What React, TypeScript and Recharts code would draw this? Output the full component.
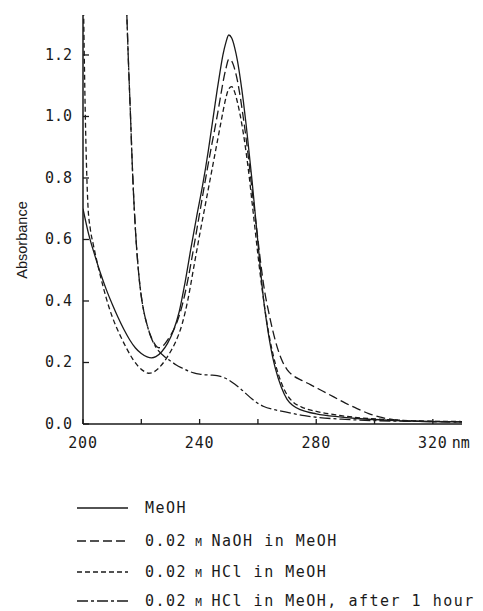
import { LineChart, Line, XAxis, YAxis } from "recharts";

// wavelength (nm) / absorbance
const meohNm = [200, 202, 204, 206, 208, 210, 212, 214, 216, 218, 220, 222, 223.5, 225, 227, 229, 231, 233, 235, 237, 239, 241, 242, 243, 244, 245, 246, 247, 248, 249, 250, 251, 252, 253, 254, 255, 256, 257, 258, 259, 260, 261, 262, 263, 264, 265, 266, 268, 270, 272, 275, 280, 288, 295, 305, 315, 330];
const meohAbs = [0.7, 0.615, 0.55, 0.49, 0.437, 0.39, 0.347, 0.308, 0.274, 0.247, 0.229, 0.218, 0.215, 0.219, 0.235, 0.262, 0.303, 0.365, 0.46, 0.57, 0.675, 0.775, 0.83, 0.89, 0.955, 1.02, 1.085, 1.145, 1.2, 1.24, 1.265, 1.255, 1.225, 1.18, 1.12, 1.05, 0.97, 0.88, 0.79, 0.69, 0.59, 0.49, 0.4, 0.33, 0.27, 0.22, 0.18, 0.12, 0.08, 0.06, 0.045, 0.033, 0.023, 0.017, 0.012, 0.009, 0.007];

const naohNm = [214.8, 215.5, 216.3, 217, 218, 219, 220, 221, 222, 223, 224, 225, 226, 227, 228, 230, 232, 234, 236, 238, 240, 242, 244, 246, 247, 248, 249, 250, 251, 252, 253, 254, 255, 256, 257, 258, 259, 260, 261, 262, 264, 266, 268, 270, 272, 275, 278, 282, 286, 290, 294, 298, 302, 306, 310, 320, 330];
const naohAbs = [1.4, 1.2, 1.0, 0.82, 0.63, 0.5, 0.415, 0.36, 0.322, 0.292, 0.27, 0.255, 0.248, 0.25, 0.26, 0.288, 0.325, 0.385, 0.47, 0.575, 0.685, 0.795, 0.9, 1.0, 1.055, 1.11, 1.155, 1.186, 1.18, 1.155, 1.115, 1.06, 0.995, 0.925, 0.845, 0.76, 0.68, 0.6, 0.52, 0.45, 0.35, 0.27, 0.212, 0.177, 0.158, 0.142, 0.128, 0.108, 0.088, 0.068, 0.05, 0.034, 0.022, 0.015, 0.011, 0.008, 0.007];

const hclNm = [200, 200.4, 200.8, 201.2, 201.7, 202.5, 203.5, 205, 207, 209, 211, 213, 215, 217, 219, 221, 222.5, 224, 226, 228, 230, 232, 234, 236, 238, 240, 242, 244, 246, 247, 248, 249, 250, 251, 252, 253, 254, 255, 256, 257, 258, 259, 260, 261, 262, 263, 264, 266, 268, 270, 272, 275, 280, 288, 295, 305, 315, 330];
const hclAbs = [1.5, 1.22, 1.0, 0.84, 0.71, 0.635, 0.585, 0.52, 0.443, 0.377, 0.325, 0.283, 0.245, 0.212, 0.187, 0.171, 0.165, 0.168, 0.182, 0.205, 0.235, 0.272, 0.325, 0.405, 0.51, 0.615, 0.715, 0.815, 0.915, 0.965, 1.015, 1.06, 1.09, 1.097, 1.08, 1.045, 1.0, 0.945, 0.88, 0.805, 0.72, 0.635, 0.55, 0.47, 0.4, 0.335, 0.28, 0.195, 0.135, 0.095, 0.072, 0.055, 0.041, 0.028, 0.02, 0.014, 0.01, 0.008];

const hcl1hNm = [214.8, 215.5, 216.3, 217, 218, 219, 220, 221, 222, 223, 224, 225, 226, 228, 230, 232, 234, 236, 238, 240, 242, 244, 246, 248, 250, 252, 254, 256, 258, 260, 262, 265, 268, 272, 276, 280, 290, 300, 310, 330];
const hcl1hAbs = [1.4, 1.2, 1.0, 0.82, 0.63, 0.5, 0.415, 0.36, 0.322, 0.29, 0.267, 0.25, 0.237, 0.219, 0.205, 0.192, 0.182, 0.173, 0.166, 0.162, 0.16, 0.159, 0.157, 0.152, 0.143, 0.13, 0.115, 0.098, 0.081, 0.067, 0.057, 0.048, 0.042, 0.034, 0.027, 0.022, 0.015, 0.011, 0.009, 0.007];

const xTicks = [200, 220, 240, 260, 280, 300, 320];
const yTicks = [0, 0.2, 0.4, 0.6, 0.8, 1.0, 1.2];

const toRows = (nm: number[], abs: number[]) =>
  nm.map((x, i) => ({ nm: x, abs: abs[i] }));

const INK = "#1a1a1a";
const MONO = "'DejaVu Sans Mono', 'Liberation Mono', monospace";

const series = [
  { name: "MeOH", data: toRows(meohNm, meohAbs), dash: undefined },
  { name: "0.02 M NaOH in MeOH", data: toRows(naohNm, naohAbs), dash: "9 4" },
  { name: "0.02 M HCl in MeOH", data: toRows(hclNm, hclAbs), dash: "5 3" },
  { name: "0.02 M HCl in MeOH, after 1 hour", data: toRows(hcl1hNm, hcl1hAbs), dash: "11 3 3 3" },
];

const XTick = ({ x, y, payload }: any) => {
  const v = payload.value;
  if (v % 40 !== 0) return null;
  return (
    <g>
      <text x={x} y={y} textAnchor="middle" fontFamily={MONO} fontSize={15} letterSpacing={0.8} fill={INK}>
        {v}
      </text>
      {v === 320 && (
        <text x={x + 19} y={y} fontFamily={MONO} fontSize={15} fill={INK}>
          nm
        </text>
      )}
    </g>
  );
};

const YTick = ({ x, y, payload }: any) => (
  <text x={x} y={y + 5} textAnchor="end" fontFamily={MONO} fontSize={15} fill={INK}>
    {payload.value.toFixed(1)}
  </text>
);

const LegendLabel = ({ text }: { text: string }) => {
  if (!text.startsWith("0.02 M ")) return <>{text}</>;
  return (
    <>
      <tspan>0.02</tspan>
      <tspan fontSize={11}> M </tspan>
      <tspan>{text.slice(7)}</tspan>
    </>
  );
};

export default function App() {
  const rowY = [508, 541, 572, 601];
  return (
    <div style={{ position: "absolute", left: 0, top: 0, width: 483, height: 611, background: "#fff" }}>
      <LineChart width={483} height={460} margin={{ top: 15, right: 21, left: 23, bottom: 0 }}>
        <XAxis
          type="number"
          dataKey="nm"
          domain={[200, 330]}
          ticks={xTicks}
          allowDataOverflow
          height={36}
          tickSize={-5}
          tickMargin={29}
          tick={<XTick />}
          axisLine={{ stroke: INK, strokeWidth: 1.5 }}
          tickLine={{ stroke: INK, strokeWidth: 1.3 }}
        />
        <YAxis
          type="number"
          domain={[0, 1.33]}
          ticks={yTicks}
          allowDataOverflow
          width={60}
          tickSize={-6}
          tickMargin={17}
          tick={<YTick />}
          axisLine={{ stroke: INK, strokeWidth: 1.5 }}
          tickLine={{ stroke: INK, strokeWidth: 1.3 }}
          label={{
            content: () => (
              <text
                x={22}
                y={240}
                transform="rotate(-90 22 240)"
                textAnchor="middle"
                dominantBaseline="central"
                fontFamily="'Liberation Sans', Arial, sans-serif"
                fontSize={14.5}
                fill={INK}
              >
                Absorbance
              </text>
            ),
          }}
        />
        {series.map((s) => (
          <Line
            key={s.name}
            data={s.data}
            dataKey="abs"
            name={s.name}
            type="monotone"
            stroke={INK}
            strokeWidth={1.3}
            strokeDasharray={s.dash}
            dot={false}
            activeDot={false}
            isAnimationActive={false}
          />
        ))}
      </LineChart>
      <svg width={483} height={151} style={{ position: "absolute", left: 0, top: 460 }}>
        {series.map((s, i) => (
          <g key={s.name}>
            <line
              x1={77}
              x2={128}
              y1={rowY[i] - 460}
              y2={rowY[i] - 460}
              stroke={INK}
              strokeWidth={1.3}
              strokeDasharray={s.dash}
            />
            <text x={145} y={rowY[i] - 460 + 5} fontFamily={MONO} fontSize={15} letterSpacing={1.5} fill={INK}>
              <LegendLabel text={s.name} />
            </text>
          </g>
        ))}
      </svg>
    </div>
  );
}
